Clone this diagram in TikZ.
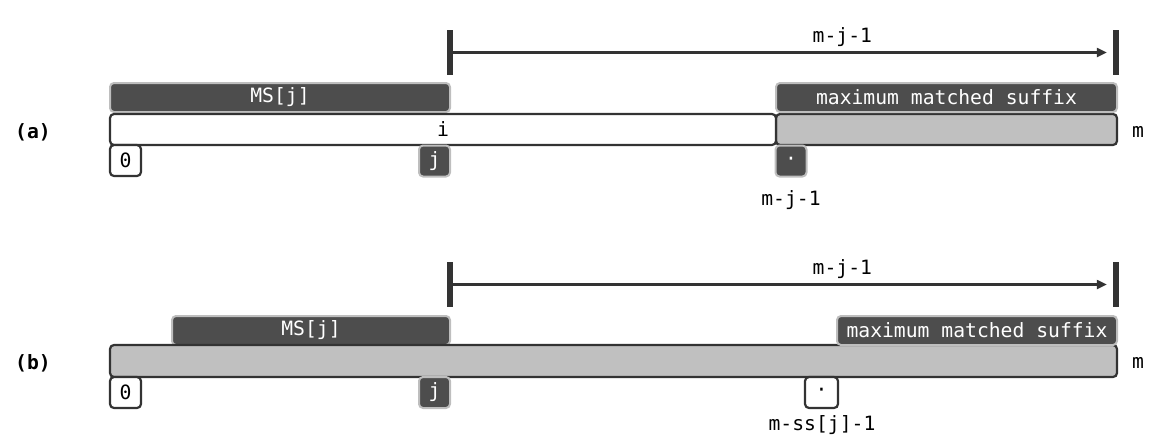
\documentclass[tikz,border=0pt]{standalone}
\usepackage{fontspec}
\setmonofont{DejaVu Sans Mono}
\usepackage{tikz}
\usetikzlibrary{arrows.meta}
\definecolor{CellDark}{RGB}{77,77,77}
\definecolor{CellEdge}{RGB}{190,190,190}
\definecolor{BarGray}{RGB}{192,192,192}
\definecolor{InkGray}{RGB}{51,51,51}
\newcommand{\mono}{\fontsize{19.7}{22}\selectfont\ttfamily}
\tikzset{
  cell/.style     ={rectangle, rounded corners=4pt, draw=InkGray, line width=2.2pt,
                    fill=white, text=black, font=\mono, inner sep=0pt},
  celldark/.style ={rectangle, rounded corners=4pt, draw=CellEdge, line width=2pt,
                    fill=CellDark, text=white, font=\mono, inner sep=0pt},
  cellgray/.style ={rectangle, rounded corners=4pt, draw=InkGray, line width=2.2pt,
                    fill=BarGray, text=black, font=\mono, inner sep=0pt},
  tickbar/.style  ={rectangle, fill=InkGray, minimum width=6pt, minimum height=45pt, inner sep=0pt},
  arr/.style      ={-{Triangle[length=10pt,width=9pt]}, draw=InkGray, line width=2.2pt, shorten >=6pt},
  lbl/.style      ={font=\mono, text=black, inner sep=0pt},
}

\begin{document}
\begin{tikzpicture}[x=1pt,y=-1pt]
  \useasboundingbox (0,0) rectangle (1161,439);

  % (a)
  \node[lbl,font=\mono\bfseries] (taga) at (33,132) {(a)};
  \node[tickbar] (la) at (450,52.5) {};
  \node[tickbar] (ra) at (1116,52.5) {};
  \draw[arr] (la) -- (ra) node[lbl,pos=.59,above=5pt] {m-j-1};

  \node[celldark,minimum width=340pt,minimum height=29pt] (msa) at (280,97.5) {MS[j]};
  \node[cellgray,minimum width=341pt,minimum height=31pt] (sufa) at (946.5,129.5) {};
  \node[cell,minimum width=666pt,minimum height=31pt] (stra) at (443,129.5) {i};
  \node[celldark,minimum width=341pt,minimum height=29pt] (mmsa) at (946.5,97.5) {maximum matched suffix};
  \node[cell,minimum size=31pt] (zeroa) at (125.5,160.5) {0};
  \node[celldark,minimum size=31pt] (ja) at (434.5,161) {j};
  \node[celldark,minimum size=31pt] (dota) at (791,161) {\raisebox{-2pt}{·}};
  \node[lbl] (ma) at (1138,132) {m};
  \node[lbl] (posa) at (791,200) {m-j-1};

  % (b)
  \node[lbl,font=\mono\bfseries] (tagb) at (33,363) {(b)};
  \node[tickbar] (lb) at (450,284.5) {};
  \node[tickbar] (rb) at (1116,284.5) {};
  \draw[arr] (lb) -- (rb) node[lbl,pos=.59,above=5pt] {m-j-1};

  \node[celldark,minimum width=278pt,minimum height=29pt] (msb) at (311,330.5) {MS[j]};
  \node[cellgray,minimum width=1007pt,minimum height=32pt] (strb) at (613.5,361) {};
  \node[celldark,minimum width=280pt,minimum height=29pt] (mmsb) at (977,330.5) {maximum matched suffix};
  \node[cell,minimum size=31pt] (zerob) at (125.5,392.5) {0};
  \node[celldark,minimum size=31pt] (jb) at (434.5,392.5) {j};
  \node[cell,minimum width=33pt,minimum height=31pt] (dotb) at (821.5,392.5) {\raisebox{-2pt}{·}};
  \node[lbl] (mb) at (1138,363) {m};
  \node[lbl] (posb) at (822,425) {m-ss[j]-1};
\end{tikzpicture}
\end{document}
